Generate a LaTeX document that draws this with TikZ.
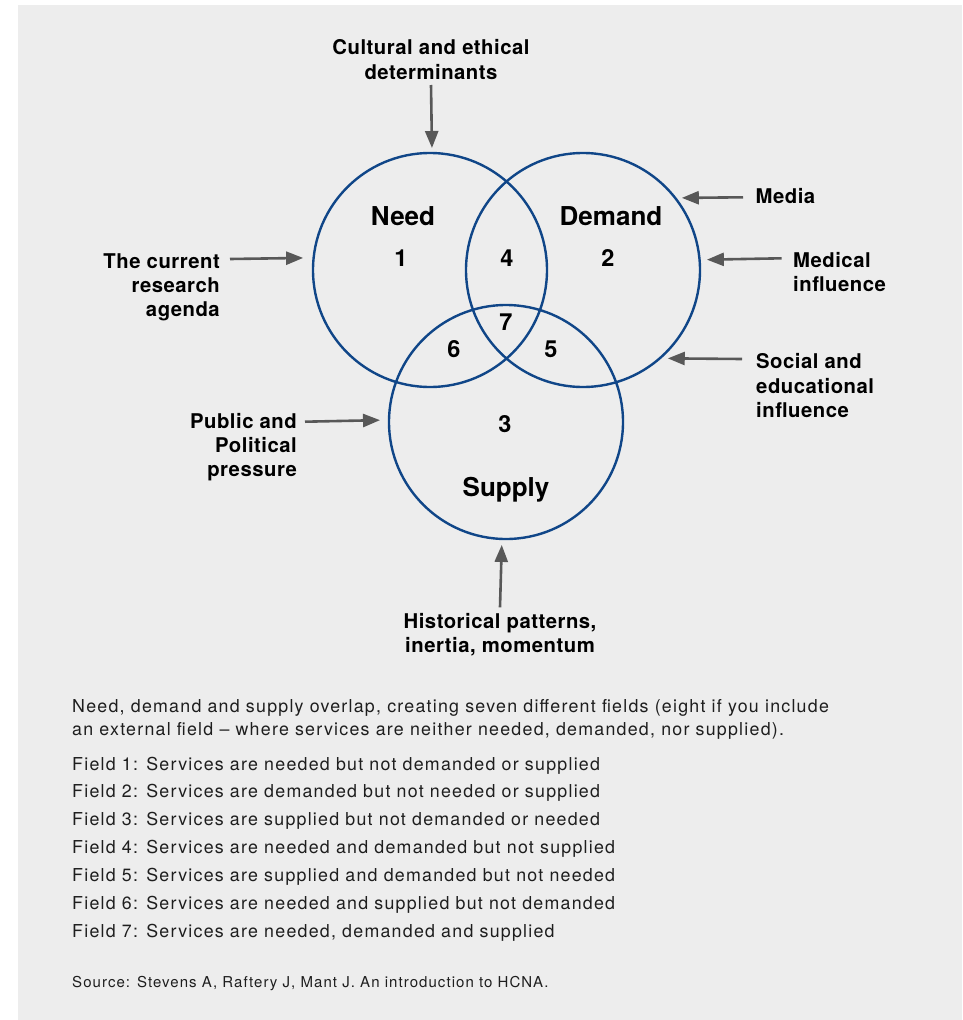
\documentclass[tikz,border=0pt]{standalone}
\usepackage{fontspec}
\setmainfont{TeX Gyre Heros}
\newfontfamily\bodyfont[LetterSpace=7]{TeX Gyre Heros}
\newfontfamily\factorfont[LetterSpace=2.5]{TeX Gyre Heros}
\usetikzlibrary{arrows.meta}
\definecolor{vennblue}{RGB}{16,70,136}
\definecolor{arrowgrey}{RGB}{88,88,88}
\definecolor{panel}{RGB}{237,237,237}
\definecolor{bodytext}{RGB}{30,30,30}

\begin{document}
\begin{tikzpicture}[x=1pt,y=-1pt,
    venn/.style={circle,draw=vennblue,line width=2.4pt,minimum size=234pt,inner sep=0pt,outer sep=0pt},
    setname/.style={font=\fontsize{26}{30}\selectfont\bfseries,anchor=base,inner sep=0pt},
    fieldno/.style={font=\fontsize{23.5}{28}\selectfont\bfseries,anchor=base,inner sep=0pt},
    factor/.style={font=\factorfont\fontsize{20.3}{24.3}\selectfont\bfseries,inner sep=0pt},
    influence/.style={draw=arrowgrey,line width=2.6pt,-{Triangle[length=17pt,width=13pt]}},
    note/.style={font=\bodyfont\fontsize{17.8}{23.3}\selectfont,text=bodytext,inner sep=0pt}]
  \useasboundingbox (0,0) rectangle (962,1020);
  \fill[panel] (18,5) rectangle (962,1020);

  % the three sets
  \node[venn] (need)   at (430,270) {};
  \node[venn] (demand) at (583,270) {};
  \node[venn] (supply) at (506,422) {};

  \node[setname] (needname)   at (403,225.5) {Need};
  \node[setname] (demandname) at (611,225.5) {Demand};
  \node[setname] (supplyname) at (506,496.5) {Supply};

  % field numbers
  \foreach \n/\x/\y in {1/401/258, 2/608/258, 3/505/424, 4/507/258, 5/551/349, 6/454/349, 7/506/322}
    \node[fieldno] (f\n) at (\x,\y+8.3) {\n};

  % influences
  \node[factor,anchor=north,align=center] (cultural) at (431,39.5) {Cultural and ethical\\determinants};
  \node[factor,anchor=north east,align=right] (research) at (220,253) {The current\\research\\agenda};
  \node[factor,anchor=north west] (media) at (755.5,188.5) {Media};
  \node[factor,anchor=north west,align=left] (medical) at (793,252) {Medical\\influence};
  \node[factor,anchor=north west,align=left] (social) at (756,353.5) {Social and\\educational\\influence};
  \node[factor,anchor=north east,align=right] (public) at (297,413) {Public and\\Political\\pressure};
  \node[factor,anchor=north,align=center] (historical) at (500,613) {Historical patterns,\\inertia, momentum};

  \coordinate (cultural-out)   at (431,85);
  \coordinate (research-out)   at (230,259);
  \coordinate (media-out)      at (743,197.3);
  \coordinate (medical-out)    at (781.7,258.3);
  \coordinate (social-out)     at (742,359);
  \coordinate (public-out)     at (305,421.7);
  \coordinate (historical-out) at (500,607.3);

  \draw[influence,shorten >=5pt]   (cultural-out)   -- (need.89.5);
  \draw[influence,shorten >=10.5pt] (research-out)  -- (need.174.6);
  \draw[influence,shorten >=6.6pt] (media-out)      -- (demand.38.6);
  \draw[influence,shorten >=7.3pt] (medical-out)    -- (demand.5.6);
  \draw[influence,shorten >=8pt]   (social-out)     -- (demand.-49.4);
  \draw[influence,shorten >=9pt]   (public-out)     -- (supply.179.85);
  \draw[influence,shorten >=6pt]   (historical-out) -- (supply.-92.9);

  % explanation
  \node[note,anchor=north west,align=left] (intro) at (72,699) {Need, demand and supply overlap, creating seven different fields (eight if you include\\an external field – where services are neither needed, demanded, nor supplied).};
  \foreach \txt [count=\i] in {{Services are needed but not demanded or supplied},
      {Services are demanded but not needed or supplied},
      {Services are supplied but not demanded or needed},
      {Services are needed and demanded but not supplied},
      {Services are supplied and demanded but not needed},
      {Services are needed and supplied but not demanded},
      {Services are needed, demanded and supplied}}
    \node[note,anchor=base west] (field\i) at (72,{770+(\i-1)*27.9}) {Field \i: \txt};
  \node[note,anchor=base west,font=\bodyfont\fontsize{15}{18}\selectfont] (source) at (72,987) {Source: Stevens A, Raftery J, Mant J. An introduction to HCNA.};
\end{tikzpicture}
\end{document}
